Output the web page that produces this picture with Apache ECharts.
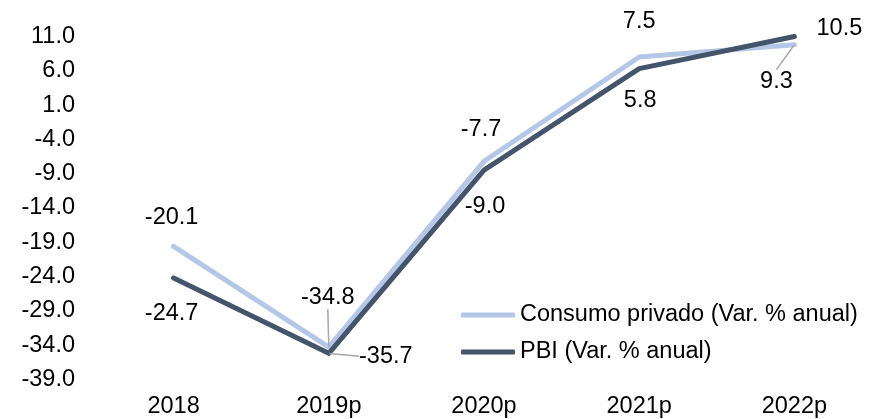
<!DOCTYPE html>
<html><head><meta charset="utf-8">
<script src="https://cdn.jsdelivr.net/npm/echarts@6/dist/echarts.min.js"></script>
<style>html,body{margin:0;padding:0;background:#fff}#c{width:872px;height:419px}</style>
</head><body><div id="c"></div>
<script>
const categories = ['2018', '2019p', '2020p', '2021p', '2022p'];
const consumo = [-20.1, -34.8, -7.7, 7.5, 9.3];
const pbi = [-24.7, -35.7, -9.0, 5.8, 10.5];
const yTicks = [-39, -34, -29, -24, -19, -14, -9, -4, 1, 6, 11];
const names = ['Consumo privado (Var. % anual)', 'PBI (Var. % anual)'];

const offsets = [
  [[-2, -29], [-1, -50], [-3, -32], [0, -35], [-18, 37]],
  [[-2, 36], [57, 3], [1, 36], [1, 32], [45, -8]]
];
const guides = [[false, true, false, false, true], [false, true, false, false, false]];

function mkData(vals, si) {
  return vals.map((v, i) => ({
    value: v,
    labelLine: { show: guides[si][i] }
  }));
}

const font = 'Liberation Sans, Arial, sans-serif';
const fs = 23.5;
const chart = echarts.init(document.getElementById('c'));
const colors = ['#b4c7e7', '#44546a'];
chart.setOption({
  animation: false,
  grid: { left: 96, right: -4, top: 33, bottom: 43 },
  legend: {
    orient: 'vertical', left: 456, top: 298,
    itemWidth: 54, itemHeight: 5, itemGap: 13,
    icon: 'roundRect',
    textStyle: { fontFamily: font, fontSize: fs, color: '#000' },
    data: names
  },
  xAxis: {
    type: 'category', data: categories, boundaryGap: true,
    axisLine: { show: false }, axisTick: { show: false },
    axisLabel: { fontFamily: font, fontSize: fs, color: '#000', margin: 19 }
  },
  yAxis: {
    type: 'value', min: -39, max: 11,
    splitLine: { show: false }, axisLine: { show: false }, axisTick: { show: false },
    axisLabel: { customValues: yTicks, fontFamily: font, fontSize: fs, color: '#000', margin: 21,
      verticalAlign: 'top', lineHeight: 7,
      formatter: v => v.toFixed(1) }
  },
  series: [0, 1].map(si => ({
    name: names[si], type: 'line',
    data: mkData(si === 0 ? consumo : pbi, si),
    color: colors[si],
    lineStyle: { width: 5, color: colors[si], cap: 'round', join: 'round' },
    symbol: 'circle', symbolSize: 1, showSymbol: true,
    itemStyle: { color: colors[si] },
    z: si === 0 ? 2 : 3,
    label: {
      show: true, position: 'inside', fontFamily: font, fontSize: fs, color: '#000',
      formatter: p => p.value.toFixed(1)
    },
    labelLine: { show: false, lineStyle: { color: '#a6a6a6', width: 1.5 } },
    labelLayout: p => ({ dx: offsets[si][p.dataIndex][0], dy: offsets[si][p.dataIndex][1] })
  }))
});
</script></body></html>
